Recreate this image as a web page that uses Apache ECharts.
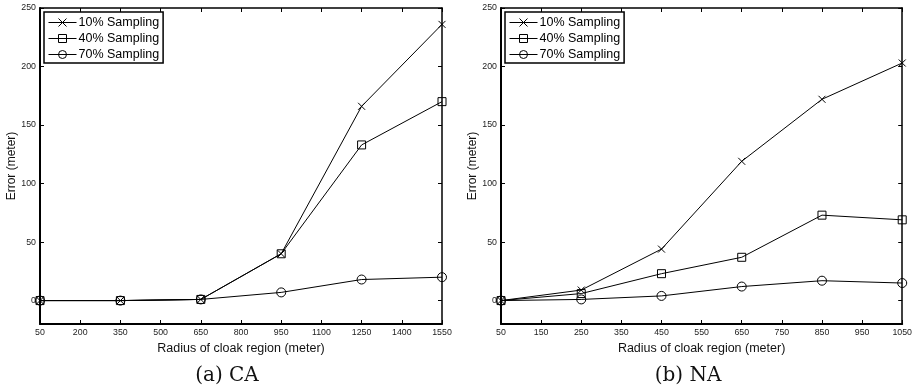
<!DOCTYPE html>
<html>
<head>
<meta charset="utf-8">
<script src="https://cdn.jsdelivr.net/npm/echarts@6/dist/echarts.min.js"></script>
<style>
  html, body { margin: 0; padding: 0; background: #fff; }
  #chart { width: 915px; height: 390px; }
</style>
</head>
<body>
<div id="chart"></div>
<script>
// (a) CA
const caRadius = [50, 350, 650, 950, 1250, 1550];
const caS10 = [0, 0, 1, 40, 166, 236];
const caS40 = [0, 0, 1, 40, 133, 170];
const caS70 = [0, 0, 1, 7, 18, 20];

// (b) NA
const naRadius = [50, 250, 450, 650, 850, 1050];
const naS10 = [0, 9, 44, 119, 172, 203];
const naS40 = [0, 6, 23, 37, 73, 69];
const naS70 = [0, 1, 4, 12, 17, 15];

const yTicks = [0, 50, 100, 150, 200, 250];
const seriesNames = ['10% Sampling', '40% Sampling', '70% Sampling'];
const captions = ['(a) CA', '(b) NA'];

const crossPath = 'path://M0,0L10,10M10,0L0,10';
const markers = [crossPath, 'rect', 'circle'];
const markerSize = [7, 8, 9];

const font = 'Liberation Sans, Arial, sans-serif';
const labelColor = '#222';

function pairs(xs, ys) {
  return xs.map((x, i) => [x, ys[i]]);
}

function makeSeries(gridIdx, xs, lists) {
  return lists.map((ys, k) => ({
    name: seriesNames[k],
    type: 'line',
    xAxisIndex: gridIdx * 2,
    yAxisIndex: gridIdx * 2,
    data: pairs(xs, ys),
    symbol: markers[k],
    symbolSize: markerSize[k],
    showAllSymbol: true,
    lineStyle: { color: '#000', width: 1 },
    itemStyle: { color: 'rgba(0,0,0,0)', borderColor: '#000', borderWidth: 1 },
    emphasis: { disabled: true },
    z: 3
  }));
}

function bottomAxis(gridIdx, min, max, interval) {
  return {
    type: 'value', gridIndex: gridIdx, position: 'bottom',
    min: min, max: max, interval: interval,
    name: 'Radius of cloak region (meter)',
    nameLocation: 'middle', nameGap: 14,
    nameTextStyle: { fontFamily: font, fontSize: 12.5, color: '#111' },
    axisLine: { show: true, onZero: false, lineStyle: { color: '#000', width: 2 } },
    axisTick: { show: true, inside: true, length: 4, lineStyle: { color: '#000' } },
    axisLabel: { fontFamily: font, fontSize: 8.8, color: labelColor, margin: 4, formatter: v => String(v) },
    splitLine: { show: false }
  };
}

function topAxis(gridIdx, min, max, interval) {
  return {
    type: 'value', gridIndex: gridIdx, position: 'top',
    min: min, max: max, interval: interval,
    axisLine: { show: true, onZero: false, lineStyle: { color: '#000', width: 1.5 } },
    axisTick: { show: true, inside: true, length: 4, lineStyle: { color: '#000' } },
    axisLabel: { show: false },
    splitLine: { show: false }
  };
}

function leftAxis(gridIdx) {
  return {
    type: 'value', gridIndex: gridIdx, position: 'left',
    min: -20, max: 250,
    name: 'Error (meter)',
    nameLocation: 'middle', nameGap: 22,
    nameTextStyle: { fontFamily: font, fontSize: 12, color: '#111' },
    axisLine: { show: true, onZero: false, lineStyle: { color: '#000', width: 2 } },
    axisTick: { show: true, inside: true, length: 4, customValues: yTicks, lineStyle: { color: '#000' } },
    axisLabel: { fontFamily: font, fontSize: 8.8, color: labelColor, margin: 4, customValues: yTicks },
    splitLine: { show: false }
  };
}

function rightAxis(gridIdx) {
  return {
    type: 'value', gridIndex: gridIdx, position: 'right',
    min: -20, max: 250,
    axisLine: { show: true, onZero: false, lineStyle: { color: '#000', width: 1.5 } },
    axisTick: { show: true, inside: true, length: 4, customValues: yTicks, lineStyle: { color: '#000' } },
    axisLabel: { show: false, customValues: yTicks },
    splitLine: { show: false }
  };
}

function legendAt(left) {
  return {
    orient: 'vertical',
    left: left, top: 12,
    data: seriesNames,
    itemWidth: 28, itemHeight: 10, itemGap: 3,
    padding: [4, 4, 2, 4],
    backgroundColor: '#fff',
    borderColor: '#000', borderWidth: 1.5, borderRadius: 0,
    selectedMode: false,
    lineStyle: { width: 1, color: '#000' },
    itemStyle: { borderWidth: 1, borderColor: '#000', color: 'rgba(0,0,0,0)' },
    textStyle: { fontFamily: font, fontSize: 12.5, color: '#000', padding: [0, 0, 0, -3] }
  };
}

const chart = echarts.init(document.getElementById('chart'), null, { renderer: 'canvas' });

const captionStyle = { fontFamily: 'DejaVu Serif, serif', fontSize: 20, fontWeight: 'normal', color: '#111' };

chart.setOption({
  animation: false,
  backgroundColor: '#fff',
  grid: [
    { left: 40, top: 8, width: 402, height: 316 },
    { left: 501, top: 8, width: 402, height: 316 }
  ],
  xAxis: [
    bottomAxis(0, 50, 1550, 150),
    topAxis(0, 50, 1550, 150),
    bottomAxis(1, 50, 1050, 100),
    topAxis(1, 50, 1050, 100)
  ],
  yAxis: [
    leftAxis(0),
    rightAxis(0),
    leftAxis(1),
    rightAxis(1)
  ],
  legend: [legendAt(44), legendAt(505)],
  title: [
    { text: captions[0], left: 227, top: 366, textAlign: 'center', padding: 0, textStyle: captionStyle },
    { text: captions[1], left: 688, top: 366, textAlign: 'center', padding: 0, textStyle: captionStyle }
  ],
  series: [
    ...makeSeries(0, caRadius, [caS10, caS40, caS70]),
    ...makeSeries(1, naRadius, [naS10, naS40, naS70])
  ]
});
</script>
</body>
</html>
